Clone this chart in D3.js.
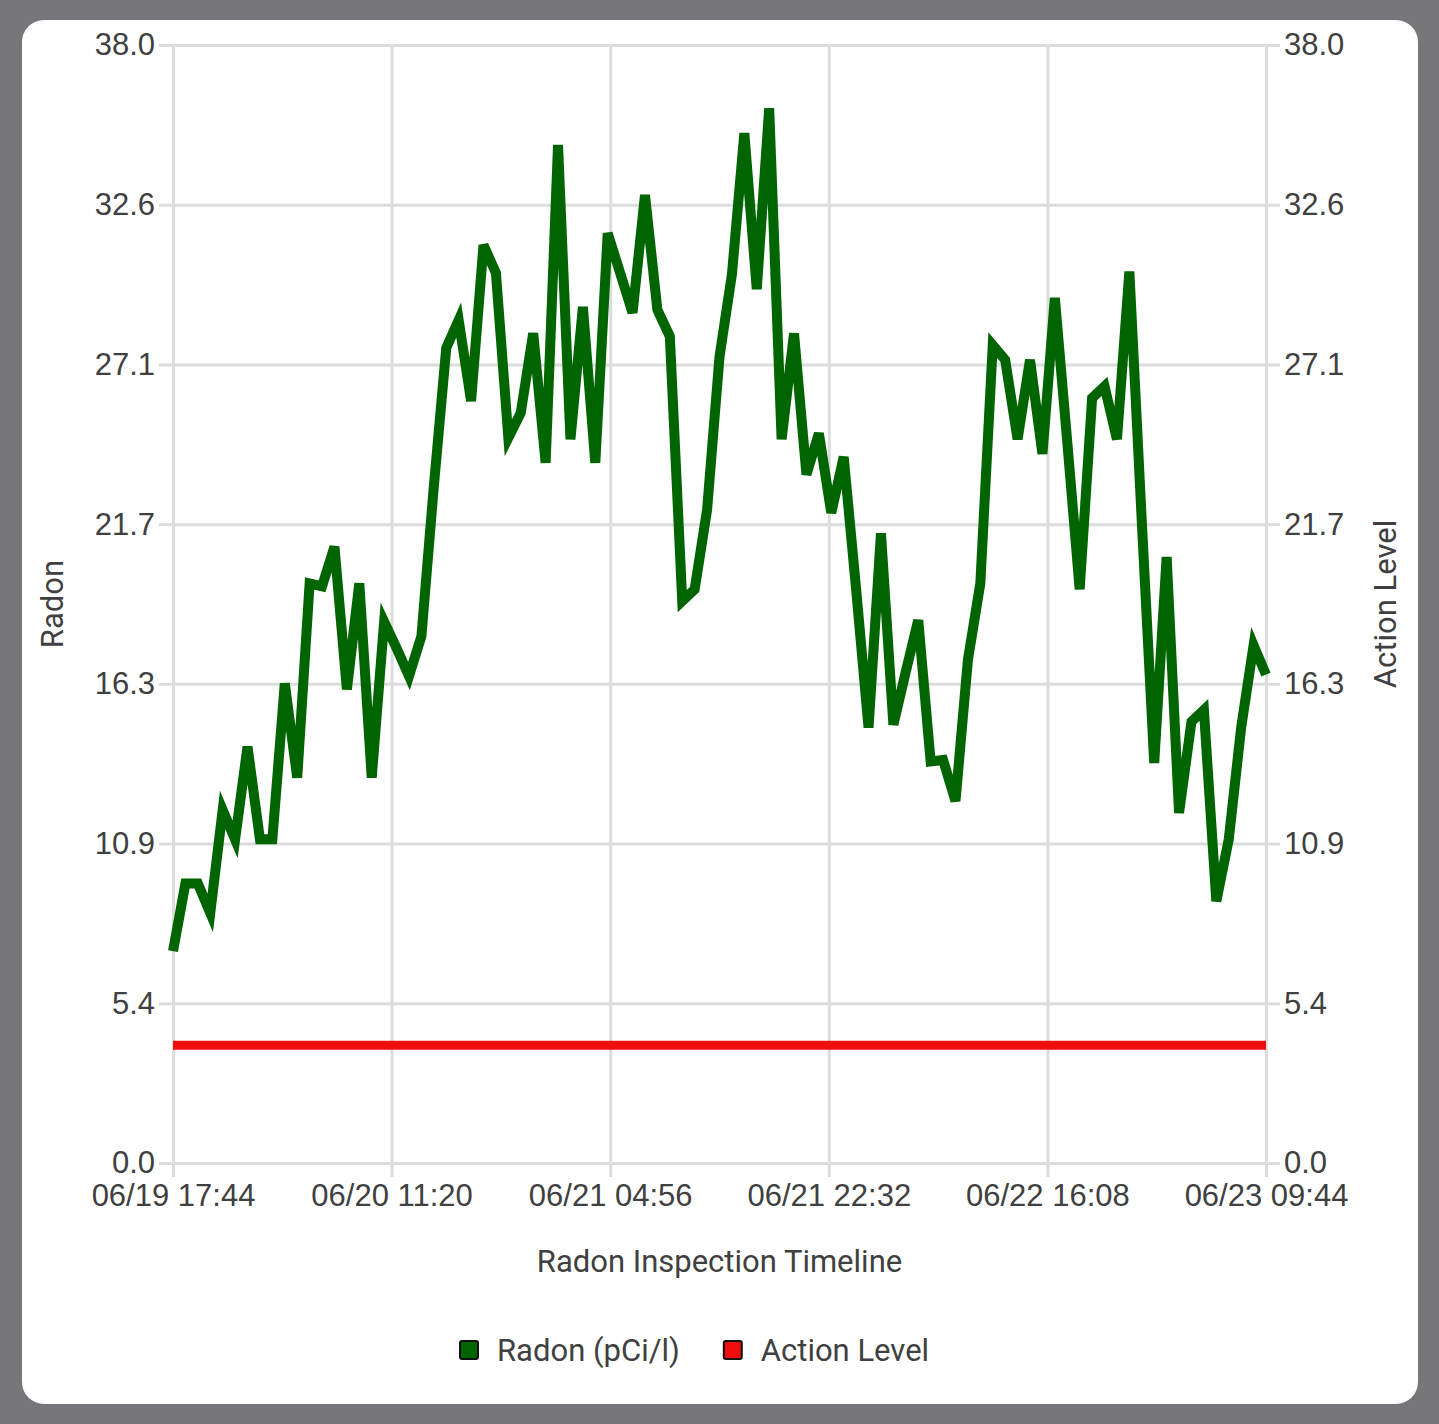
<!DOCTYPE html>
<html>
<head>
<meta charset="utf-8">
<script src="https://cdn.jsdelivr.net/npm/d3@7"></script>
<style>
  html, body { margin: 0; padding: 0; background: #77767b; }
  svg { display: block; font-family: Roboto, 'Noto Sans', sans-serif; }
</style>
</head>
<body>
<svg id="chart"></svg>
<script>
// readings, one per hour starting at the first tick
const startTime = '06/19 17:44';
const radon = [
  7.2, 9.5, 9.5, 8.5, 12.0, 11.0, 14.15, 11.0, 11.0, 16.3,
  13.1, 19.7, 19.6, 20.95, 16.1, 19.7, 13.1, 18.4, 17.5, 16.55,
  17.9, 23.0, 27.7, 28.65, 25.9, 31.2, 30.25, 24.65, 25.5, 28.2,
  23.8, 34.6, 24.6, 29.1, 23.8, 31.6, 30.25, 28.9, 32.9, 29.0,
  28.1, 19.1, 19.5, 22.2, 27.4, 30.2, 35.0, 29.7, 35.85, 24.6,
  28.2, 23.4, 24.8, 22.1, 24.0, 19.5, 14.8, 21.4, 14.9, 16.7,
  18.45, 13.65, 13.7, 12.3, 17.1, 19.7, 27.8, 27.3, 24.6, 27.3,
  24.1, 29.4, 24.5, 19.5, 26.0, 26.4, 24.6, 30.3, 21.8, 13.6,
  20.6, 11.9, 15.0, 15.4, 8.9, 11.0, 14.8, 17.6, 16.6
];
const actionLevel = 4.0;
const xTickLabels = ['06/19 17:44', '06/20 11:20', '06/21 04:56', '06/21 22:32', '06/22 16:08', '06/23 09:44'];
const yTickLabels = ['0.0', '5.4', '10.9', '16.3', '21.7', '27.1', '32.6', '38.0'];
const yMax = 38;
const legendItems = [
  { name: 'Radon (pCi/l)', color: '#006400' },
  { name: 'Action Level', color: '#f00d0d' }
];

const W = 1439, H = 1424;
const margin = { top: 45, right: 173, bottom: 261, left: 173 };
const width = W - margin.left - margin.right;
const height = H - margin.top - margin.bottom;
const textColor = '#404040';
const gridColor = '#dcdcdc';
const fontSize = '31px';

const parse = d3.timeParse('%m/%d %H:%M');
const fmt = d3.timeFormat('%m/%d %H:%M');
const t0 = parse(startTime);
const data = radon.map((v, i) => ({ t: d3.timeHour.offset(t0, i), v }));
const xTicks = xTickLabels.map(parse);
const yTicks = yTickLabels.map((d, i) => i * yMax / (yTickLabels.length - 1));

const svg = d3.select('#chart').attr('width', W).attr('height', H);

svg.append('rect').attr('width', W).attr('height', H).attr('fill', '#77767b');
svg.append('rect')
  .attr('x', 22).attr('y', 20)
  .attr('width', 1396).attr('height', 1384)
  .attr('rx', 22).attr('ry', 22)
  .attr('fill', '#fff');

const g = svg.append('g').attr('transform', `translate(${margin.left},${margin.top})`);

const x = d3.scaleTime().domain([xTicks[0], xTicks[xTicks.length - 1]]).range([0, width]);
const y = d3.scaleLinear().domain([0, yMax]).range([height, 0]);

// horizontal grid
g.append('g')
  .call(d3.axisLeft(y).tickValues(yTicks).tickSize(-width).tickFormat(''))
  .call(a => a.select('.domain').remove())
  .selectAll('line').attr('stroke', gridColor).attr('stroke-width', 3);

// vertical grid + x axis ticks
g.append('g')
  .attr('transform', `translate(0,${height})`)
  .call(d3.axisBottom(x).tickValues(xTicks).tickSize(14).tickPadding(7).tickFormat(fmt))
  .call(a => a.select('.domain').remove())
  .call(a => a.selectAll('line').attr('y1', -height).attr('stroke', gridColor).attr('stroke-width', 3))
  .selectAll('text')
  .attr('fill', textColor)
  .style('font-size', fontSize);

// left axis
g.append('g')
  .call(d3.axisLeft(y).tickValues(yTicks).tickSize(14).tickPadding(4).tickFormat((d, i) => yTickLabels[i]))
  .call(a => a.select('.domain').remove())
  .call(a => a.selectAll('line').attr('stroke', gridColor).attr('stroke-width', 3))
  .selectAll('text')
  .attr('fill', textColor)
  .style('font-size', fontSize);

// right axis
g.append('g')
  .attr('transform', `translate(${width},0)`)
  .call(d3.axisRight(y).tickValues(yTicks).tickSize(14).tickPadding(4).tickFormat((d, i) => yTickLabels[i]))
  .call(a => a.select('.domain').remove())
  .call(a => a.selectAll('line').attr('stroke', gridColor).attr('stroke-width', 3))
  .selectAll('text')
  .attr('fill', textColor)
  .style('font-size', fontSize);

// axis titles
g.append('text')
  .attr('transform', `translate(${52 - margin.left},${height / 2}) rotate(-90)`)
  .attr('text-anchor', 'middle')
  .attr('dominant-baseline', 'central')
  .attr('fill', textColor)
  .style('font-size', fontSize)
  .text('Radon');

g.append('text')
  .attr('transform', `translate(${width + 1385 - W + margin.right},${height / 2}) rotate(-90)`)
  .attr('text-anchor', 'middle')
  .attr('dominant-baseline', 'central')
  .attr('fill', textColor)
  .style('font-size', fontSize)
  .text('Action Level');

g.append('text')
  .attr('x', width / 2)
  .attr('y', height + 109)
  .attr('text-anchor', 'middle')
  .attr('fill', textColor)
  .style('font-size', fontSize)
  .text('Radon Inspection Timeline');

// action level line
g.append('line')
  .attr('x1', 0).attr('x2', width)
  .attr('y1', y(actionLevel)).attr('y2', y(actionLevel))
  .attr('stroke', legendItems[1].color)
  .attr('stroke-width', 9);

// radon line
const line = d3.line().x(d => x(d.t)).y(d => y(d.v));
g.append('path')
  .datum(data)
  .attr('d', line)
  .attr('fill', 'none')
  .attr('stroke', legendItems[0].color)
  .attr('stroke-width', 10)
  .attr('stroke-linejoin', 'miter')
  .attr('stroke-miterlimit', 4);

// legend
const legend = svg.append('g').attr('transform', 'translate(460,1350)');
let lx = 0;
legendItems.forEach((item) => {
  const it = legend.append('g').attr('transform', `translate(${lx},0)`);
  it.append('rect')
    .attr('x', 0).attr('y', -9)
    .attr('width', 18).attr('height', 18)
    .attr('rx', 2)
    .attr('fill', item.color)
    .attr('stroke', '#111')
    .attr('stroke-width', 2);
  const t = it.append('text')
    .attr('x', 37)
    .attr('dy', '0.35em')
    .attr('fill', textColor)
    .style('font-size', fontSize)
    .text(item.name);
  lx += 37 + t.node().getComputedTextLength() + 44;
});
</script>
</body>
</html>
